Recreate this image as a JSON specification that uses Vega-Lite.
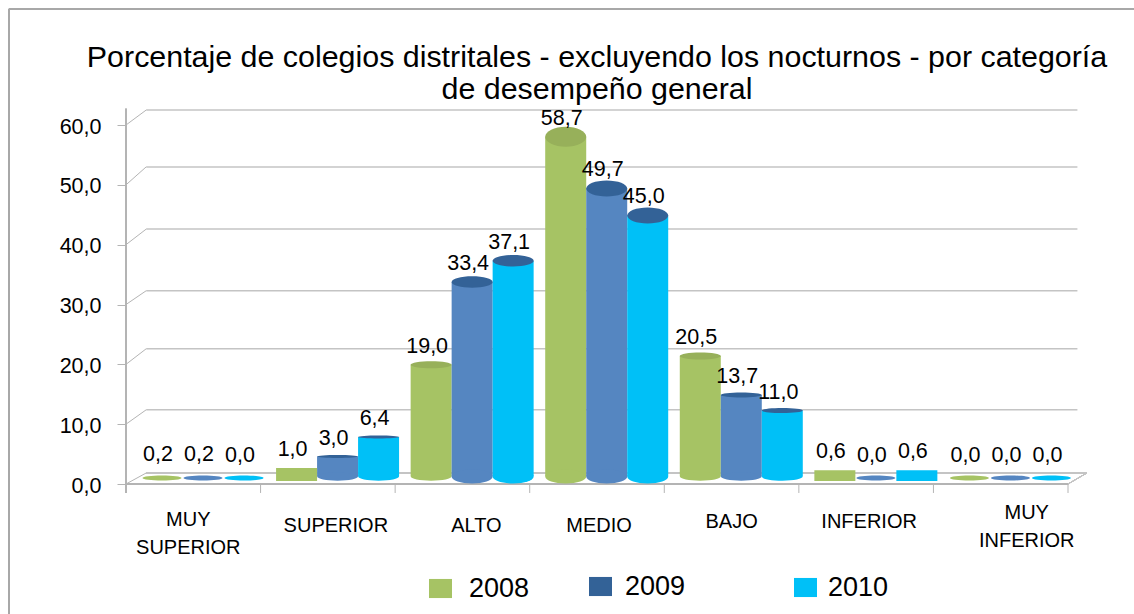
{"$schema":"https://vega.github.io/schema/vega-lite/v6.json","width":942,"height":359,"autosize":{"type":"none"},"padding":{"left":126,"top":125,"right":66,"bottom":130},"background":"white",
"config":{"view":{"stroke":null},"font":"Liberation Sans","locale":{"number":{"decimal":",","thousands":".","grouping":[3],"currency":["",""]}}},
"title":{"text":["Porcentaje de colegios distritales - excluyendo los nocturnos - por categoría","de desempeño general"],"fontSize":30.4,"fontWeight":"normal","font":"Liberation Sans","anchor":"middle","frame":"group","lineHeight":32,"offset":-97,"color":"#000000"},
"datasets":{"valores":[
{"categoria":"MUY SUPERIOR","anio":"2008","valor":0.2},{"categoria":"MUY SUPERIOR","anio":"2009","valor":0.2},{"categoria":"MUY SUPERIOR","anio":"2010","valor":0.0},
{"categoria":"SUPERIOR","anio":"2008","valor":1.0},{"categoria":"SUPERIOR","anio":"2009","valor":3.0},{"categoria":"SUPERIOR","anio":"2010","valor":6.4},
{"categoria":"ALTO","anio":"2008","valor":19.0},{"categoria":"ALTO","anio":"2009","valor":33.4},{"categoria":"ALTO","anio":"2010","valor":37.1},
{"categoria":"MEDIO","anio":"2008","valor":58.7},{"categoria":"MEDIO","anio":"2009","valor":49.7},{"categoria":"MEDIO","anio":"2010","valor":45.0},
{"categoria":"BAJO","anio":"2008","valor":20.5},{"categoria":"BAJO","anio":"2009","valor":13.7},{"categoria":"BAJO","anio":"2010","valor":11.0},
{"categoria":"INFERIOR","anio":"2008","valor":0.6},{"categoria":"INFERIOR","anio":"2009","valor":0.0},{"categoria":"INFERIOR","anio":"2010","valor":0.6},
{"categoria":"MUY INFERIOR","anio":"2008","valor":0.0},{"categoria":"MUY INFERIOR","anio":"2009","valor":0.0},{"categoria":"MUY INFERIOR","anio":"2010","valor":0.0}],
"rejilla":[{"marca":0,"fondo":1.84},{"marca":10,"fondo":12.4},{"marca":20,"fondo":22.6},{"marca":30,"fondo":32.3},{"marca":40,"fondo":42.6},{"marca":50,"fondo":53},{"marca":60,"fondo":62.5}],
"divisiones":[{"d":0},{"d":1},{"d":2},{"d":3},{"d":4},{"d":5},{"d":6},{"d":7}]},
"resolve":{"scale":{"x":"independent","y":"independent","color":"independent","xOffset":"independent"}},
"layer":[
{"data":{"name":"rejilla"},"mark":{"type":"rule","color":"#b4b4b4","strokeWidth":1},"encoding":{"x":{"datum":0,"type":"quantitative","axis":null,"scale":{"domain":[0,7],"nice":false,"zero":false}},"x2":{"datum":0.15},"y":{"field":"marca","type":"quantitative","scale":{"domain":[0,60],"nice":false,"zero":false},"axis":{"orient":"left","title":null,"values":[0,10,20,30,40,50,60],"format":".1f","grid":false,"domain":false,"tickSize":9,"tickColor":"#b4b4b4","labelFontSize":21.5,"labelColor":"#000000","labelPadding":16,"labelOffset":2,"labelFont":"Liberation Sans"}},"y2":{"field":"fondo"}}},
{"data":{"name":"rejilla"},"layer":[
{"mark":{"type":"rule","color":"#c4c4c4","strokeWidth":1.5},"encoding":{"x":{"datum":0.15,"type":"quantitative","axis":null,"scale":{"domain":[0,7],"nice":false,"zero":false}},"x2":{"datum":7.07},"y":{"field":"fondo","type":"quantitative","axis":null,"scale":{"domain":[0,60],"nice":false,"zero":false}}}},
{"mark":{"type":"rule","color":"#b4b4b4","strokeWidth":1.2},"encoding":{"x":{"datum":0,"type":"quantitative","axis":null,"scale":{"domain":[0,7],"nice":false,"zero":false}},"y":{"datum":62.7,"type":"quantitative","scale":{"domain":[0,60],"nice":false,"zero":false},"axis":null},"y2":{"datum":-1.5}}},
{"mark":{"type":"rule","color":"#b4b4b4","strokeWidth":1.2},"encoding":{"x":{"datum":0,"type":"quantitative","axis":null,"scale":{"domain":[0,7],"nice":false,"zero":false}},"x2":{"datum":7},"y":{"datum":0,"type":"quantitative","scale":{"domain":[0,60],"nice":false,"zero":false},"axis":null}}},
{"mark":{"type":"rule","color":"#c4c4c4","strokeWidth":1.2},"encoding":{"x":{"datum":0.15,"type":"quantitative","axis":null,"scale":{"domain":[0,7],"nice":false,"zero":false}},"x2":{"datum":7.14},"y":{"datum":1.84,"type":"quantitative","scale":{"domain":[0,60],"nice":false,"zero":false},"axis":null}}},
{"mark":{"type":"rule","color":"#c4c4c4","strokeWidth":1},"encoding":{"x":{"datum":7,"type":"quantitative","axis":null,"scale":{"domain":[0,7],"nice":false,"zero":false}},"x2":{"datum":7.14},"y":{"datum":0,"type":"quantitative","scale":{"domain":[0,60],"nice":false,"zero":false},"axis":null},"y2":{"datum":1.84}}},
{"data":{"name":"divisiones"},"mark":{"type":"rule","color":"#b4b4b4","strokeWidth":1},"encoding":{"x":{"field":"d","type":"quantitative","axis":null,"scale":{"domain":[0,7],"nice":false,"zero":false}},"y":{"datum":0,"type":"quantitative","scale":{"domain":[0,60],"nice":false,"zero":false},"axis":null},"y2":{"datum":-1.5}}},
{"mark":{"type":"rule","color":"#a8a8a8","strokeWidth":1.2},"encoding":{"x":{"datum":-0.87,"type":"quantitative","axis":null,"scale":{"domain":[0,7],"nice":false,"zero":false}},"y":{"datum":79.4,"type":"quantitative","scale":{"domain":[0,60],"nice":false,"zero":false},"axis":null},"y2":{"datum":-21.7}}},
{"mark":{"type":"rule","color":"#a8a8a8","strokeWidth":1.2},"encoding":{"x":{"datum":-0.87,"type":"quantitative","axis":null,"scale":{"domain":[0,7],"nice":false,"zero":false}},"x2":{"datum":7.49},"y":{"datum":79.4,"type":"quantitative","scale":{"domain":[0,60],"nice":false,"zero":false},"axis":null}}}
]},
{"data":{"name":"valores"},
"encoding":{
"x":{"field":"categoria","type":"nominal","sort":null,"scale":{"domain":["MUY SUPERIOR","SUPERIOR","ALTO","MEDIO","BAJO","INFERIOR","MUY INFERIOR"],"paddingInner":0,"paddingOuter":0},
"axis":{"orient":"bottom","title":null,"labelAngle":0,"domain":false,"ticks":false,"grid":false,"labelFont":"Liberation Sans","labelFontSize":20,"labelColor":"#000000","labelBaseline":"top","labelLineHeight":28,"labelAlign":"center","labelLimit":300,"labelExpr":"split(datum.label,' ')",
"labelOffset":{"condition":[{"test":"datum.value==='MUY SUPERIOR'","value":-5},{"test":"datum.value==='SUPERIOR'","value":8},{"test":"datum.value==='ALTO'","value":14},{"test":"datum.value==='MEDIO'","value":2},{"test":"datum.value==='INFERIOR'","value":3},{"test":"datum.value==='MUY INFERIOR'","value":26}],"value":0},
"labelPadding":{"condition":[{"test":"datum.value==='MUY SUPERIOR'","value":25},{"test":"datum.value==='MUY INFERIOR'","value":18},{"test":"datum.value==='BAJO'||datum.value==='INFERIOR'","value":27}],"value":31}}},
"xOffset":{"field":"anio","type":"nominal","scale":{"type":"band","domain":["2008","2009","2010"],"range":[15.5,138.5],"paddingInner":0,"paddingOuter":0}},
"color":{"field":"anio","type":"nominal","legend":null,"scale":{"domain":["2008","2009","2010"],"range":["#A6C364","#5586C1","#00C0F7"]}}},
"layer":[
{"transform":[{"filter":"datum.valor>=2"}],"mark":{"type":"bar","cornerRadius":0},"encoding":{"y":{"field":"valor","type":"quantitative","stack":null,"axis":null,"scale":{"domain":[-1.79,60.75],"nice":false,"zero":false}},"y2":{"datum":-0.4}}},
{"transform":[{"filter":"datum.valor>0.5 && datum.valor<2"}],"mark":{"type":"bar"},"encoding":{"y":{"field":"valor","type":"quantitative","stack":null,"axis":null,"scale":{"domain":[-1.79,60.75],"nice":false,"zero":false}},"y2":{"datum":-1.27}}},
{"transform":[{"filter":"datum.valor>=2"}],"mark":{"type":"point","filled":true,"opacity":1,"size":1681},"encoding":{"y":{"datum":-0.5,"type":"quantitative","axis":null,"scale":{"domain":[-1.79,60.75],"nice":false,"zero":false}},"shape":{"condition":{"test":"datum.valor>=25","value":"M-1,0A1,0.34 0 1 0 1,0A1,0.34 0 1 0 -1,0Z"},"value":"M-1,0A1,0.2 0 1 0 1,0A1,0.2 0 1 0 -1,0Z"}}},
{"transform":[{"filter":"datum.valor<0.5"}],"mark":{"type":"point","filled":true,"opacity":1,"size":1521,"shape":"M-1,0A1,0.13 0 1 0 1,0A1,0.13 0 1 0 -1,0Z"},"encoding":{"y":{"datum":-0.75,"type":"quantitative","axis":null,"scale":{"domain":[-1.79,60.75],"nice":false,"zero":false}}}}
]},
{"data":{"name":"valores"},
"encoding":{
"x":{"field":"categoria","type":"nominal","axis":null,"scale":{"domain":["MUY SUPERIOR","SUPERIOR","ALTO","MEDIO","BAJO","INFERIOR","MUY INFERIOR"],"paddingInner":0,"paddingOuter":0}},
"xOffset":{"field":"anio","type":"nominal","scale":{"type":"band","domain":["2008","2009","2010"],"range":[15.5,138.5],"paddingInner":0,"paddingOuter":0}},
"y":{"field":"valor","type":"quantitative","stack":null,"axis":null,"scale":{"domain":[-1.79,60.75],"nice":false,"zero":false}}},
"layer":[
{"transform":[{"filter":"datum.valor>=2"}],"mark":{"type":"point","filled":true,"opacity":1,"size":1681},"encoding":{"color":{"field":"anio","type":"nominal","legend":null,"scale":{"domain":["2008","2009","2010"],"range":["#97B05A","#336297","#336297"]}},"shape":{"condition":[{"test":"datum.valor>=55","value":"M-1,0A1,0.49 0 1 0 1,0A1,0.49 0 1 0 -1,0Z"},{"test":"datum.valor>=40","value":"M-1,0A1,0.39 0 1 0 1,0A1,0.39 0 1 0 -1,0Z"},{"test":"datum.valor>=30","value":"M-1,0A1,0.28 0 1 0 1,0A1,0.28 0 1 0 -1,0Z"},{"test":"datum.valor>=15","value":"M-1,0A1,0.17 0 1 0 1,0A1,0.17 0 1 0 -1,0Z"},{"test":"datum.valor>=10","value":"M-1,0A1,0.12 0 1 0 1,0A1,0.12 0 1 0 -1,0Z"}],"value":"M-1,0A1,0.07 0 1 0 1,0A1,0.07 0 1 0 -1,0Z"}}},
{"mark":{"type":"text","dx":-4,"dy":-18,"fontSize":21.5,"font":"Liberation Sans","color":"#000000"},"encoding":{"text":{"field":"valor","type":"quantitative","format":".1f"}}}
]},
{"data":{"name":"valores"},"mark":{"type":"point","filled":true,"opacity":0,"size":1},
"encoding":{"x":{"datum":0,"type":"quantitative","axis":null},"y":{"datum":0,"type":"quantitative","axis":null},
"color":{"field":"anio","type":"nominal","scale":{"domain":["2008","2009","2010"],"range":["#A6C364","#336297","#00C0F7"]},
"legend":{"title":null,"values":["2008"],"orient":"none","legendX":301,"legendY":450,"symbolType":"M-1,-0.83H1V0.83H-1Z","symbolSize":529,"symbolOpacity":1,"symbolStrokeWidth":0,"labelFontSize":27,"labelFont":"Liberation Sans","labelColor":"#000000","labelOffset":15}}}},
{"data":{"name":"valores"},"mark":{"type":"point","filled":true,"opacity":0,"size":1},
"encoding":{"x":{"datum":0,"type":"quantitative","axis":null},"y":{"datum":0,"type":"quantitative","axis":null},
"color":{"field":"anio","type":"nominal","scale":{"domain":["2008","2009","2010"],"range":["#A6C364","#336297","#00C0F7"]},
"legend":{"title":null,"values":["2009"],"orient":"none","legendX":461,"legendY":448,"symbolType":"M-1,-0.83H1V0.83H-1Z","symbolSize":529,"symbolOpacity":1,"symbolStrokeWidth":0,"labelFontSize":27,"labelFont":"Liberation Sans","labelColor":"#000000","labelOffset":11}}}},
{"data":{"name":"valores"},"mark":{"type":"point","filled":true,"opacity":0,"size":1},
"encoding":{"x":{"datum":0,"type":"quantitative","axis":null},"y":{"datum":0,"type":"quantitative","axis":null},
"color":{"field":"anio","type":"nominal","scale":{"domain":["2008","2009","2010"],"range":["#A6C364","#336297","#00C0F7"]},
"legend":{"title":null,"values":["2010"],"orient":"none","legendX":666,"legendY":449,"symbolType":"M-1,-0.83H1V0.83H-1Z","symbolSize":529,"symbolOpacity":1,"symbolStrokeWidth":0,"labelFontSize":27,"labelFont":"Liberation Sans","labelColor":"#000000","labelOffset":9}}}}
]}
